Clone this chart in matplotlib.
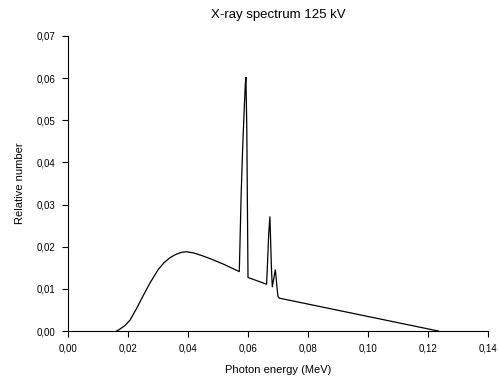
import matplotlib
matplotlib.use("Agg")
import matplotlib.pyplot as plt
from matplotlib.ticker import FuncFormatter, MultipleLocator

plt.rcParams["font.family"] = ["Liberation Sans", "DejaVu Sans"]

# photon energy (MeV) and relative number
energy = [0.0162, 0.0170, 0.0190, 0.0207, 0.0229, 0.0250, 0.0275, 0.0301,
          0.0320, 0.0340, 0.0360, 0.0380, 0.0396, 0.0420, 0.0450, 0.0480,
          0.0520, 0.0571,
          0.0573, 0.0577, 0.0582, 0.0587, 0.0591, 0.0593, 0.0596, 0.0598,
          0.0600,
          0.0662, 0.0665, 0.0669, 0.0673, 0.0676, 0.0678, 0.0681, 0.0686,
          0.0691, 0.0694, 0.0697, 0.0700, 0.0704, 0.1234]
rel_number = [0.0000, 0.0003, 0.0013, 0.0026, 0.0054, 0.0083, 0.0116, 0.0146,
              0.0162, 0.0174, 0.0182, 0.0187, 0.0188, 0.0185, 0.0178, 0.0170,
              0.0158, 0.0141,
              0.0200, 0.0320, 0.0430, 0.0520, 0.0585, 0.0602, 0.0480, 0.0300,
              0.0127,
              0.0111, 0.0160, 0.0230, 0.0271, 0.0200, 0.0150, 0.0105, 0.0125,
              0.0145, 0.0125, 0.0100, 0.0082, 0.0078, 0.0000]


def comma(v, pos):
    return f"{v:.2f}".replace(".", ",")


fig = plt.figure(figsize=(4.98, 3.82), dpi=100)
ax = fig.add_axes([0.1365, 0.1335, 0.8435, 0.7723])
ax.plot(energy, rel_number, color="black", linewidth=0.9)

ax.set_xlim(0, 0.14)
ax.set_ylim(0, 0.07)
ax.xaxis.set_major_locator(MultipleLocator(0.02))
ax.yaxis.set_major_locator(MultipleLocator(0.01))
ax.xaxis.set_major_formatter(FuncFormatter(comma))
ax.yaxis.set_major_formatter(FuncFormatter(comma))
ax.tick_params(direction="out", length=4, width=0.8, labelsize=7, pad=5)
ax.spines["top"].set_visible(False)
ax.spines["right"].set_visible(False)
for s in ("left", "bottom"):
    ax.spines[s].set_linewidth(0.8)

ax.set_xlabel("Photon energy (MeV)", fontsize=8, labelpad=8)
ax.set_ylabel("Relative number", fontsize=8, labelpad=8)
ax.set_title("X-ray spectrum 125 kV", fontsize=9.5, pad=13)

fig.savefig("out.png", dpi=100)
